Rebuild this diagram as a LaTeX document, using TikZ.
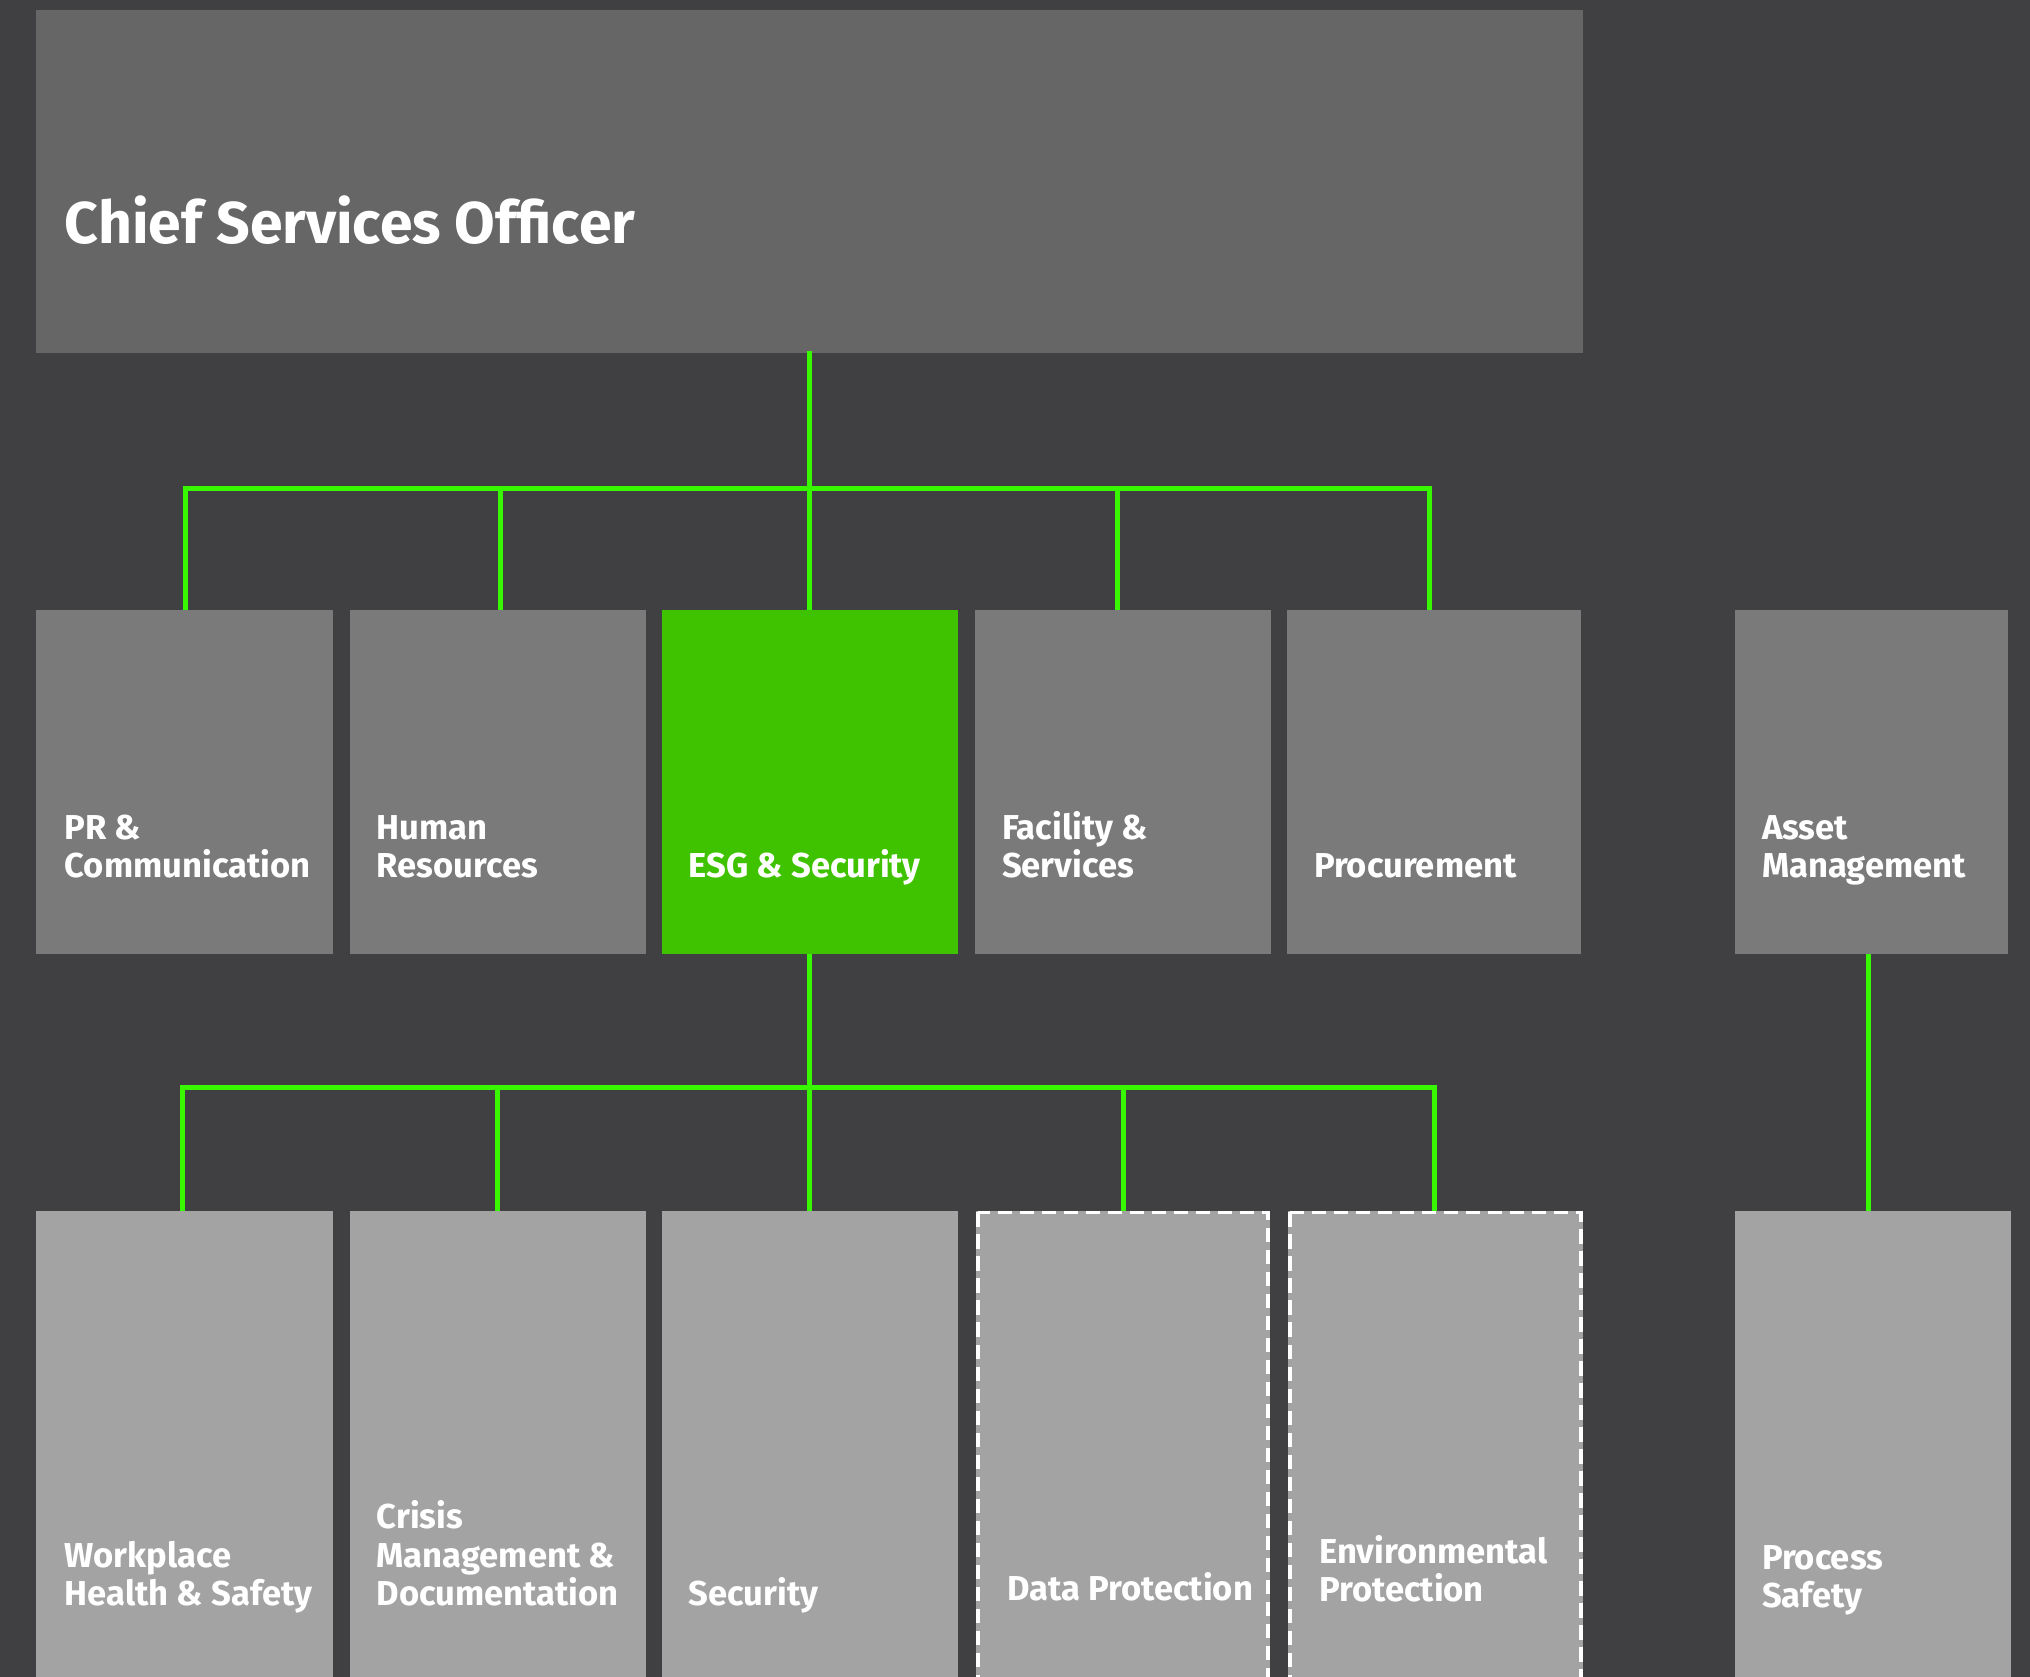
\documentclass[tikz,border=0pt]{standalone}
\usepackage{fontspec}
\setmainfont{Fira Sans}
\definecolor{bgc}{RGB}{64,64,66}
\definecolor{topc}{RGB}{102,102,102}
\definecolor{midc}{RGB}{122,122,122}
\definecolor{lowc}{RGB}{163,163,163}
\definecolor{esgc}{RGB}{63,195,0}
\definecolor{linec}{RGB}{56,248,0}
\tikzset{
  boxbase/.style={inner sep=0pt, outer sep=0pt, anchor=north west},
  topbox/.style={boxbase, fill=topc},
  midbox/.style={boxbase, fill=midc, minimum height=266pt},
  esgbox/.style={boxbase, fill=esgc, minimum height=266pt},
  lowbox/.style={boxbase, fill=lowc, minimum height=370pt},
  dashframe/.style={draw=white, line width=3pt, dash pattern=on 11pt off 6pt},
  conn/.style={draw=linec, line width=3.8pt},
  lbl/.style={inner sep=0pt, outer sep=0pt, anchor=base west, align=left, text=white,
    font=\fontsize{26.7}{29.5}\selectfont\bfseries},
  biglbl/.style={inner sep=0pt, anchor=base west, text=white,
    font=\fontsize{45.5}{50}\selectfont\bfseries}
}
\begin{document}
\begin{tikzpicture}[x=1pt,y=-1pt]
\fill[bgc] (0,0) rectangle (1568,1295);
\useasboundingbox (0,0) rectangle (1568,1295);
% top
\node[topbox, minimum width=1195pt, minimum height=265pt] (cso) at (28,8) {};
\node[biglbl] (csot) at (50,188) {Chief Services Officer};
% level 2
\node[midbox, minimum width=229pt] (pr) at (28,471) {};
\node[midbox, minimum width=229pt] (hr) at (270,471) {};
\node[esgbox, minimum width=229pt] (esg) at (511,471) {};
\node[midbox, minimum width=229pt] (fac) at (753,471) {};
\node[midbox, minimum width=227pt] (proc) at (994,471) {};
\node[midbox, minimum width=211pt] (asset) at (1340,471) {};
\node[lbl] (prt) at (50,678) {PR \&\\Communication};
\node[lbl] (hrt) at (291,678) {Human\\Resources};
\node[lbl] (esgt) at (532,678) {ESG \& Security};
\node[lbl] (fact) at (774,678) {Facility \&\\Services};
\node[lbl] (proct) at (1015,678) {Procurement};
\node[lbl] (assett) at (1361,678) {Asset\\Management};
% level 3
\node[lowbox, minimum width=229pt] (whs) at (28,935) {};
\node[lowbox, minimum width=229pt] (crisis) at (270,935) {};
\node[lowbox, minimum width=229pt] (sec) at (511,935) {};
\node[lowbox, minimum width=227pt] (dp) at (754,935) {};
\node[lowbox, minimum width=228pt] (env) at (995,935) {};
\node[lowbox, minimum width=213pt] (ps) at (1340,935) {};
\draw[dashframe] ([shift={(1.5,1.5)}]dp.north west) rectangle ([shift={(-1.5,-1.5)}]dp.south east);
\draw[dashframe] ([shift={(1.5,1.5)}]env.north west) rectangle ([shift={(-1.5,-1.5)}]env.south east);
\node[lbl] (whst) at (50,1240) {Workplace\\Health \& Safety};
\node[lbl] (crisist) at (291,1240) {Crisis\\Management \&\\Documentation};
\node[lbl] (sect) at (532,1240) {Security};
\node[lbl] (dpt) at (778,1236) {Data Protection};
\node[lbl] (envt) at (1019,1237) {Environmental\\Protection};
\node[lbl] (pst) at (1361,1242) {Process\\Safety};
% connectors level 1-2
\coordinate (j1) at (625,377);
\draw[conn] ([yshift=2pt]cso.south) -- (esg.north);
\draw[conn] ([xshift=0.5pt]pr.north) -- ([xshift=0.5pt]pr.north |- j1) -- ([xshift=-3.5pt]proc.north |- j1) -- ([xshift=-3.5pt]proc.north);
\draw[conn] ([xshift=2pt]hr.north) -- ([xshift=2pt]hr.north |- j1);
\draw[conn] ([xshift=-4pt]fac.north) -- ([xshift=-4pt]fac.north |- j1);
% connectors level 2-3
\coordinate (j2) at (625,840);
\draw[conn] (esg.south) -- (sec.north);
\draw[conn] ([xshift=-1.5pt]whs.north) -- ([xshift=-1.5pt]whs.north |- j2) -- ([xshift=-1pt]env.north |- j2) -- ([xshift=-1pt]env.north);
\draw[conn] ([xshift=0pt]crisis.north) -- (crisis.north |- j2);
\draw[conn] (dp.north) -- (dp.north |- j2);
\draw[conn] ([xshift=-2pt]asset.south) -- ([xshift=-2pt]asset.south |- ps.north);
\end{tikzpicture}
\end{document}
